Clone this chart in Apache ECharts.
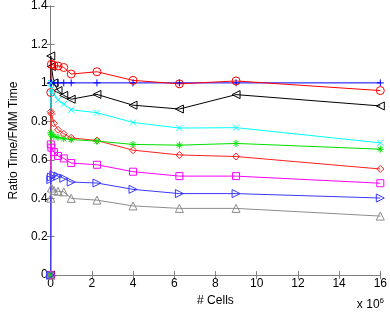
<!DOCTYPE html>
<html><head><meta charset="utf-8">
<script src="https://cdn.jsdelivr.net/npm/echarts@6/dist/echarts.min.js"></script>
<style>html,body{margin:0;padding:0;background:#fff}#c{width:390px;height:312px}</style>
</head><body><div id="c"></div>
<script>
// Data (x in units of 10^6 cells)
const cells = [0, 0.01, 0.04, 0.16, 0.36, 0.64, 1, 2.25, 4, 6.25, 9, 16];
const fmmPlus     = [0, 1.0, 1.0, 1.0, 1.0, 1.0, 1.0, 1.0, 1.0, 1.0, 1.0, 1.0];
const redCircle   = [0, 0.95, 1.097, 1.092, 1.088, 1.08, 1.046, 1.058, 1.013, 0.995, 1.01, 0.96];
const blackLeft   = [0, 1.14, 1.085, 1.0, 0.96, 0.935, 0.915, 0.94, 0.884, 0.864, 0.939, 0.88];
const cyanX       = [0, 1.0, 0.97, 0.94, 0.91, 0.89, 0.86, 0.845, 0.794, 0.765, 0.767, 0.688];
const greenStar   = [0, 0.74, 0.73, 0.722, 0.716, 0.71, 0.705, 0.697, 0.68, 0.676, 0.685, 0.655];
const redDiamond  = [0, 0.85, 0.84, 0.79, 0.756, 0.735, 0.714, 0.70, 0.65, 0.625, 0.617, 0.552];
const magSquare   = [0, 0.68, 0.663, 0.64, 0.62, 0.607, 0.583, 0.574, 0.538, 0.515, 0.515, 0.478];
const blueRight   = [0, 0.497, 0.51, 0.521, 0.515, 0.504, 0.484, 0.479, 0.446, 0.424, 0.424, 0.401];
const grayUp      = [0, 0.40, 0.453, 0.441, 0.436, 0.433, 0.399, 0.39, 0.36, 0.347, 0.347, 0.307];
const xTicks = [0, 2, 4, 6, 8, 10, 12, 14, 16];
const yTicks = [0, 0.2, 0.4, 0.6, 0.8, 1, 1.2, 1.4];

const SYM = {
  plus: 'path://M0,5L10,5M5,0L5,10',
  cross: 'path://M0,0L10,10M10,0L0,10',
  star: 'path://M0,5L10,5M5,0L5,10M1.5,1.5L8.5,8.5M8.5,1.5L1.5,8.5',
  left: 'path://M10,0L0,5L10,10Z',
  right: 'path://M0,0L10,5L0,10Z',
  up: 'path://M5,0L10,9L0,9Z'
};
function mk(name, ys, color, symbol, size) {
  return {
    name, type: 'line', data: cells.map((x, i) => [x, ys[i]]),
    symbol, symbolSize: size, showAllSymbol: true,
    lineStyle: { color, width: 1 },
    itemStyle: { color: 'rgba(0,0,0,0)', borderColor: color, borderWidth: 1 },
    emphasis: { disabled: true }, animation: false, z: 2
  };
}
const font = 'Liberation Sans, Arial, Helvetica, sans-serif';
const axisCol = '#808080';
const chart = echarts.init(document.getElementById('c'));
chart.setOption({
  animation: false,
  grid: { left: 35, right: 7, top: 4, bottom: 34, containLabel: false },
  xAxis: [{
    type: 'value', min: 0, max: 16, interval: 2, position: 'bottom',
    axisLine: { lineStyle: { color: axisCol, width: 1 } },
    axisTick: { inside: true, length: 4, lineStyle: { color: axisCol } },
    splitLine: { show: false },
    axisLabel: { color: '#000', fontFamily: font, fontSize: 12, margin: 3,
      formatter: v => xTicks.includes(v) ? String(v) : '' },
    name: '# Cells', nameLocation: 'middle', nameGap: 17,
    nameTextStyle: { color: '#000', fontFamily: font, fontSize: 12 }
  }, {
    type: 'value', min: 0, max: 16, interval: 2, position: 'top',
    axisLine: { show: true, lineStyle: { color: axisCol, width: 1 } },
    axisTick: { inside: true, length: 4, lineStyle: { color: axisCol } },
    axisLabel: { show: false }, splitLine: { show: false }
  }],
  yAxis: [{
    type: 'value', min: 0, max: 1.4, interval: 0.2, position: 'left',
    axisLine: { show: true, lineStyle: { color: axisCol, width: 1 } },
    axisTick: { show: true, inside: true, length: 4, lineStyle: { color: axisCol } },
    splitLine: { show: false },
    axisLabel: { color: '#000', fontFamily: font, fontSize: 12, margin: 3,
      formatter: v => { const t = yTicks.find(k => Math.abs(k - v) < 1e-9); return t === undefined ? '' : String(+t.toFixed(1)); } },
    name: 'Ratio Time/FMM Time', nameLocation: 'middle', nameGap: 29, nameRotate: 90,
    nameTextStyle: { color: '#000', fontFamily: font, fontSize: 12 }
  }, {
    type: 'value', min: 0, max: 1.4, interval: 0.2, position: 'right',
    axisLine: { show: true, lineStyle: { color: axisCol, width: 1 } },
    axisTick: { show: true, inside: true, length: 4, lineStyle: { color: axisCol } },
    axisLabel: { show: false }, splitLine: { show: false }
  }],
  graphic: [{
    type: 'text', right: 6, bottom: 1,
    style: { rich: { a: { fontFamily: font, fontSize: 12, fill: '#000' }, s: { fontFamily: font, fontSize: 8, fill: '#000', verticalAlign: 'top', padding: [0, 0, 8, 0] } },
      text: '{a|x 10}{s|6}' }
  }],
  series: [
    mk('fmm', fmmPlus, '#0000ff', SYM.plus, 7),
    mk('black', blackLeft, '#000000', SYM.left, 8),
    mk('red', redCircle, '#ff0000', 'circle', 8),
    mk('cyan', cyanX, '#00ffff', SYM.cross, 6),
    mk('diamond', redDiamond, '#ff2020', 'diamond', 7),
    mk('green', greenStar, '#00e000', SYM.star, 7),
    mk('magenta', magSquare, '#ff00ff', 'rect', 7),
    mk('gray', grayUp, '#8c8c8c', SYM.up, 8),
    mk('blue', blueRight, '#3a3aff', SYM.right, 8)
  ]
});
</script></body></html>
